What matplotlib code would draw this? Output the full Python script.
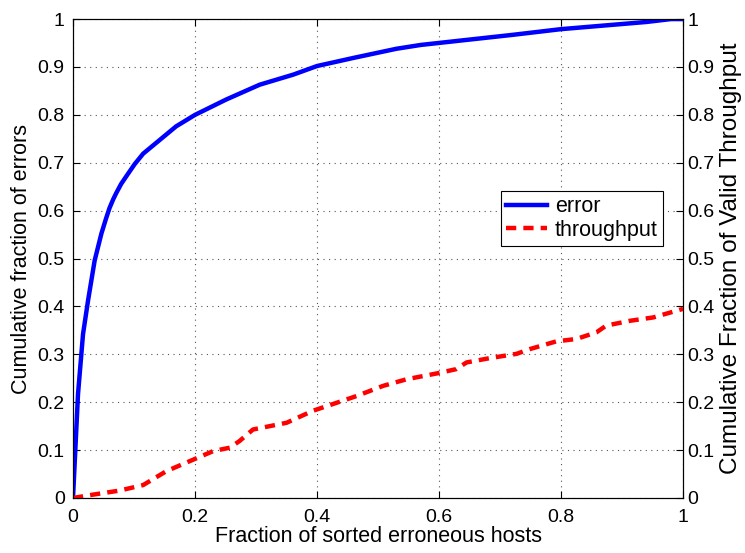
import matplotlib
matplotlib.use('Agg')
import matplotlib.pyplot as plt

plt.rcParams['font.family'] = ['Liberation Sans', 'DejaVu Sans']

# error curve (cumulative fraction of errors)
err_x = [0, 0.0082, 0.0164, 0.0246, 0.0355, 0.0465, 0.054, 0.060, 0.066, 0.071, 0.079,
         0.0875, 0.101, 0.115, 0.1425, 0.169, 0.20, 0.251, 0.306, 0.361, 0.40, 0.46,
         0.53, 0.57, 0.72, 0.80, 0.94, 0.98, 1.0]
err_y = [0, 0.217, 0.342, 0.412, 0.496, 0.552, 0.583, 0.606, 0.624, 0.637, 0.656,
         0.672, 0.697, 0.719, 0.748, 0.776, 0.80, 0.832, 0.863, 0.884, 0.902, 0.919,
         0.938, 0.946, 0.967, 0.979, 0.994, 1.0, 1.0]

# throughput curve (cumulative fraction of valid throughput)
thr_x = [0, 0.033, 0.0765, 0.115, 0.153, 0.197, 0.23, 0.257, 0.273, 0.295, 0.35,
         0.393, 0.421, 0.465, 0.508, 0.547, 0.596, 0.628, 0.645, 0.683, 0.727,
         0.749, 0.792, 0.825, 0.858, 0.874, 0.913, 0.951, 1.0]
thr_y = [0, 0.007, 0.0155, 0.027, 0.056, 0.080, 0.098, 0.105, 0.119, 0.143, 0.157,
         0.182, 0.194, 0.213, 0.234, 0.248, 0.260, 0.269, 0.283, 0.292, 0.301,
         0.311, 0.327, 0.332, 0.346, 0.360, 0.370, 0.377, 0.395]

ticks = [0, 0.1, 0.2, 0.3, 0.4, 0.5, 0.6, 0.7, 0.8, 0.9, 1]
tick_labels = ['0', '0.1', '0.2', '0.3', '0.4', '0.5', '0.6', '0.7', '0.8', '0.9', '1']
xticks = [0, 0.2, 0.4, 0.6, 0.8, 1]
xtick_labels = ['0', '0.2', '0.4', '0.6', '0.8', '1']

fig = plt.figure(figsize=(7.45, 5.53), dpi=100)
ax = fig.add_axes([0.098, 0.0995, 0.819, 0.866])
ax2 = ax.twinx()

l1, = ax.plot(err_x, err_y, color='#0000ff', lw=3.2, label='error')
l2, = ax2.plot(thr_x, thr_y, color='#ff0000', lw=3.2, dashes=(2.3, 1.6), label='throughput')

for a in (ax, ax2):
    a.set_xlim(0, 1)
    a.set_ylim(0, 1)
    a.set_yticks(ticks)
    a.set_yticklabels(tick_labels)
    a.tick_params(direction='in', length=5, width=0.8, labelsize=14)
    for s in a.spines.values():
        s.set_linewidth(0.8)

ax.set_xticks(xticks)
ax.set_xticklabels(xtick_labels)
ax.tick_params(axis='x', top=True, pad=8)
ax.tick_params(axis='y', pad=6)
ax2.tick_params(axis='y', pad=3)
ax.grid(True, color='#555555', linestyle=(0, (1, 4)), linewidth=0.8)
ax.set_xlabel('Fraction of sorted erroneous hosts', fontsize=15.5, labelpad=0)
ax.set_ylabel('Cumulative fraction of errors', fontsize=15.5, labelpad=4)
ax2.set_ylabel('Cumulative Fraction of Valid Throughput', fontsize=17.5, labelpad=4)

leg = ax2.legend([l1, l2], ['error', 'throughput'], loc='upper right',
                 bbox_to_anchor=(0.967, 0.641), fontsize=15.5, fancybox=False,
                 framealpha=1, edgecolor='black', handlelength=1.9,
                 borderpad=0.25, labelspacing=0.1, handletextpad=0.35, borderaxespad=0)
leg.get_frame().set_linewidth(0.8)

fig.savefig('out.png', dpi=100)
